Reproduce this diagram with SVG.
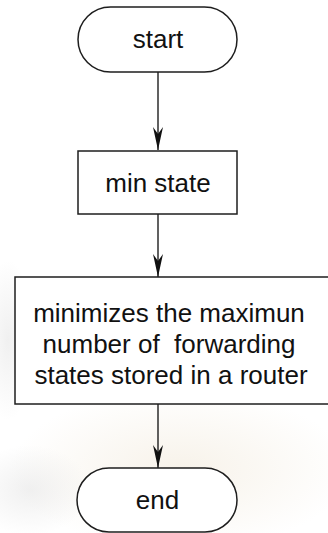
<svg xmlns="http://www.w3.org/2000/svg" width="328" height="533" viewBox="0 0 328 533">
  <style>
    .shape { fill: #ffffff; stroke: #1e1e1e; stroke-width: 1.5; }
    .label { font-family: "Liberation Sans", Arial, sans-serif; font-size: 26px; fill: #111111; text-anchor: middle; white-space: pre; }
    .conn { stroke: #1e1e1e; stroke-width: 1.4; fill: none; marker-end: url(#arrow); }
  </style>
  <defs>
    <marker id="arrow" markerUnits="userSpaceOnUse" viewBox="-24 -6 25 12" refX="0" refY="0" markerWidth="25" markerHeight="12" orient="auto">
      <path d="M0,0 L-23,-5 L-16,0 L-23,5 Z" fill="#111111"/>
    </marker>
    <radialGradient id="wm1" cx="0.5" cy="0.5" r="0.5">
      <stop offset="0" stop-color="#f5efe4" stop-opacity="0.8"/>
      <stop offset="1" stop-color="#f5efe4" stop-opacity="0"/>
    </radialGradient>
    <radialGradient id="wm2" cx="0.5" cy="0.5" r="0.5">
      <stop offset="0" stop-color="#e6e6e6" stop-opacity="0.6"/>
      <stop offset="1" stop-color="#e6e6e6" stop-opacity="0"/>
    </radialGradient>
  </defs>
  <rect x="0" y="0" width="328" height="533" fill="#ffffff"/>
  <g id="watermark">
    <ellipse cx="180" cy="470" rx="170" ry="80" fill="url(#wm1)"/>
    <ellipse cx="8" cy="340" rx="25" ry="80" fill="url(#wm2)"/>
    <ellipse cx="30" cy="490" rx="60" ry="45" fill="url(#wm2)"/>
  </g>
  <g id="connectors">
    <line class="conn" x1="158" y1="72" x2="158" y2="150"/>
    <line class="conn" x1="158" y1="198" x2="158" y2="277"/>
    <line class="conn" x1="158" y1="404" x2="158" y2="468"/>
  </g>
  <g id="start">
    <rect class="shape" x="78" y="7" width="159" height="65" rx="32.5" ry="32.5"/>
    <text class="label" x="158" y="48">start</text>
  </g>
  <g id="min-state">
    <rect class="shape" x="78" y="151" width="159" height="63"/>
    <text class="label" x="158" y="191.5">min state</text>
  </g>
  <g id="minimizes">
    <rect class="shape" x="15" y="277" width="320" height="127"/>
    <text class="label" x="169" y="322">minimizes the maximun</text>
    <text class="label" x="169" y="353" xml:space="preserve">number of  forwarding</text>
    <text class="label" x="171" y="384">states stored in a router</text>
  </g>
  <g id="end">
    <rect class="shape" x="77" y="468" width="160" height="64" rx="32" ry="32"/>
    <text class="label" x="157.5" y="509">end</text>
  </g>
</svg>
